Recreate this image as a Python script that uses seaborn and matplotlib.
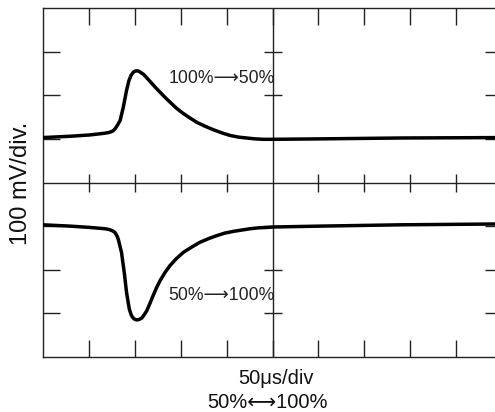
import numpy as np
import pandas as pd
import seaborn as sns
import matplotlib
matplotlib.use("Agg")
import matplotlib.pyplot as plt

# ---- data (x in time divisions, y in voltage divisions) ----
t_up = [0.00, 0.59, 1.02, 1.35, 1.45, 1.52, 1.57, 1.62, 1.68, 1.75, 1.82, 1.87,
        1.92, 1.97, 2.01, 2.05, 2.09, 2.13, 2.19, 2.26, 2.33, 2.44, 2.55, 2.66,
        2.77, 2.91, 3.06, 3.20, 3.35, 3.53, 3.71, 3.89, 4.07, 4.26, 4.44, 4.62,
        4.80, 5.01, 6.03, 7.78, 10.00]
v_up = [1.03, 1.06, 1.09, 1.13, 1.15, 1.18, 1.23, 1.31, 1.42, 1.73, 2.11, 2.33,
        2.46, 2.53, 2.555, 2.56, 2.55, 2.52, 2.48, 2.40, 2.32, 2.19, 2.07, 1.95,
        1.84, 1.70, 1.58, 1.48, 1.38, 1.29, 1.21, 1.14, 1.08, 1.04, 1.02, 1.00,
        0.99, 0.99, 1.00, 1.02, 1.03]

t_dn = [0.00, 0.59, 1.02, 1.35, 1.45, 1.52, 1.57, 1.61, 1.64, 1.71, 1.77, 1.82,
        1.88, 1.92, 1.95, 1.99, 2.04, 2.09, 2.15, 2.20, 2.26, 2.33, 2.40, 2.47,
        2.55, 2.66, 2.77, 2.91, 3.06, 3.24, 3.42, 3.60, 3.78, 3.96, 4.15, 4.33,
        4.51, 4.69, 4.87, 5.01, 6.03, 7.78, 10.00]
v_dn = [-0.97, -1.00, -1.03, -1.06, -1.08, -1.11, -1.15, -1.22, -1.30, -1.60,
        -2.06, -2.52, -2.90, -3.03, -3.09, -3.13, -3.15, -3.14, -3.11, -3.04,
        -2.94, -2.77, -2.59, -2.42, -2.25, -2.06, -1.90, -1.74, -1.60, -1.48,
        -1.37, -1.29, -1.22, -1.16, -1.12, -1.09, -1.06, -1.04, -1.03, -1.02,
        -1.00, -0.97, -0.95]

label_up = "100%\u27f650%"
label_dn = "50%\u27f6100%"
x_label_1 = "50\u03bcs/div"
x_label_2 = "50%\u27f7100%"
y_label = "100 mV/div."

x_divs = [1, 2, 3, 4, 6, 7, 8, 9]
y_divs = [-3, -2, -1, 1, 2, 3]

sns.set_theme(style="white")
plt.rcParams["font.family"] = ["Liberation Sans", "DejaVu Sans"]

W, H = 495, 412
fig = plt.figure(figsize=(W / 100, H / 100), dpi=100)
ax = fig.add_axes([43 / W, 55 / H, 459 / W, 349 / H])

frame_col = "#222222"

df_up = pd.DataFrame({"t": t_up, "v": v_up})
df_dn = pd.DataFrame({"t": t_dn, "v": v_dn})
sns.lineplot(data=df_up, x="t", y="v", sort=False, estimator=None,
             color="black", lw=2.5, ax=ax, zorder=5)
sns.lineplot(data=df_dn, x="t", y="v", sort=False, estimator=None,
             color="black", lw=2.5, ax=ax, zorder=5)
for ln in ax.lines:
    ln.set_solid_joinstyle("round")
    ln.set_solid_capstyle("round")

ax.set_xlim(0, 10)
ax.set_ylim(-4, 4)

# centre crosshair
ax.axhline(0, color=frame_col, lw=1.0, zorder=2)
ax.axvline(5, color=frame_col, lw=1.0, zorder=2)
ax.plot(x_divs, [0] * len(x_divs), ls="none", marker="|", ms=12.5, mew=1.0,
        color=frame_col, zorder=2)
ax.plot([5] * len(y_divs), y_divs, ls="none", marker="_", ms=13, mew=1.0,
        color=frame_col, zorder=2)

# frame ticks
ax.set_xticks(range(1, 10))
ax.set_yticks(y_divs)
ax.set_xticklabels([])
ax.set_yticklabels([])
ax.tick_params(axis="both", which="both", direction="in", length=12.3,
               width=1.0, color=frame_col, top=True, bottom=True,
               left=True, right=True, labelbottom=False, labelleft=False)
for s in ax.spines.values():
    s.set_visible(True)
    s.set_color(frame_col)
    s.set_linewidth(1.0)
ax.set_xlabel("")
ax.set_ylabel("")

ax.text(5.05, 2.38, label_up, ha="right", va="center", fontsize=12.7,
        color="#222222")
ax.text(5.05, -2.6, label_dn, ha="right", va="center", fontsize=12.7,
        color="#222222")

fig.text(276 / W, 1 - 378 / H, x_label_1, ha="center", va="center",
         fontsize=14.5, color="#111111")
fig.text(268 / W, 1 - 403 / H, x_label_2, ha="center", va="center",
         fontsize=14.5, color="#111111")
fig.text(21 / W, 1 - 183 / H, y_label, ha="center", va="center",
         rotation=90, fontsize=17, color="#111111")

fig.savefig("out.png", dpi=100)
